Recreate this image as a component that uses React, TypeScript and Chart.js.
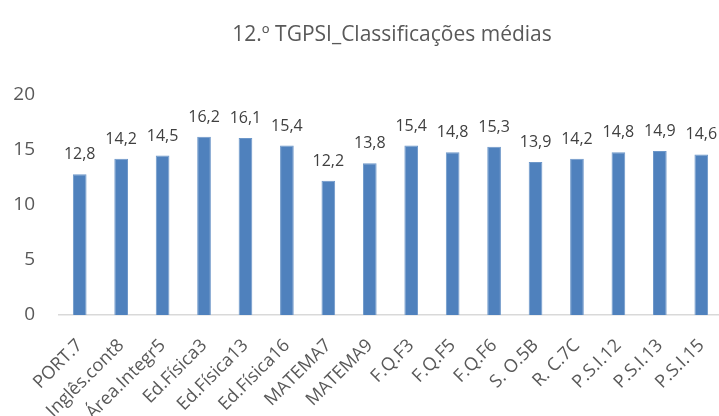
import React, { useEffect, useRef } from "react";
import { Chart, registerables } from "chart.js";

Chart.register(...registerables);

const title = "12.º TGPSI_Classificações médias";
const categories = [
  "PORT.7", "Inglês.cont8", "Área.Integr5", "Ed.Física3", "Ed.Física13", "Ed.Física16",
  "MATEMA7", "MATEMA9", "F.Q.F3", "F.Q.F5", "F.Q.F6", "S. O.5B", "R. C.7C",
  "P.S.I.12", "P.S.I.13", "P.S.I.15",
];
const values = [12.8, 14.2, 14.5, 16.2, 16.1, 15.4, 12.2, 13.8, 15.4, 14.8, 15.3, 13.9, 14.2, 14.8, 14.9, 14.6];
const yTicks = [0, 5, 10, 15, 20];

const CW = 784;
const CH = 460;

const dataLabels = {
  id: "dataLabels",
  afterDatasetsDraw(chart: any) {
    const ctx = chart.ctx;
    const meta = chart.getDatasetMeta(0);
    ctx.save();
    ctx.font = "16px 'Open Sans'";
    ctx.fillStyle = "#404040";
    ctx.textAlign = "center";
    ctx.textBaseline = "alphabetic";
    meta.data.forEach((bar: any, i: number) => {
      const v = chart.data.datasets[0].data[i] as number;
      ctx.fillText(v.toFixed(1).replace(".", ","), bar.x, bar.y - 15);
    });
    ctx.restore();
  },
};

const titlePlugin = {
  id: "ownTitle",
  afterDraw(chart: any) {
    const ctx = chart.ctx;
    ctx.save();
    ctx.font = "21px 'Open Sans'";
    ctx.fillStyle = "#595959";
    ctx.textAlign = "center";
    ctx.textBaseline = "alphabetic";
    ctx.fillText(title, CW / 2, 41);
    ctx.restore();
  },
};

export default function App() {
  const ref = useRef<HTMLCanvasElement>(null);
  useEffect(() => {
    document.body.style.margin = "0";
    const chart = new Chart(ref.current!, {
      type: "bar",
      data: {
        labels: categories,
        datasets: [
          {
            data: values,
            backgroundColor: "#4f81bd",
            borderColor: "#6d97c9",
            borderWidth: 1,
            barPercentage: 0.33,
            categoryPercentage: 1,
          },
        ],
      },
      options: {
        responsive: false,
        animation: false,
        devicePixelRatio: 1,
        layout: { padding: { left: 0, right: CW - 722, top: 95, bottom: 0 } },
        plugins: {
          legend: { display: false },
          tooltip: { enabled: false },
          title: { display: false },
        },
        scales: {
          x: {
            grid: { display: false, drawTicks: false },
            border: { display: true, color: "#d9d9d9", width: 1.5 },
            ticks: {
              color: "#595959",
              font: { family: "'Open Sans'", size: 18 },
              minRotation: 45,
              maxRotation: 45,
              autoSkip: false,
              padding: 20,
            },
            afterFit: (s: any) => {
              s.height = CH - 315;
            },
          },
          y: {
            min: 0,
            max: 20,
            afterBuildTicks: (s: any) => {
              s.ticks = yTicks.map((v) => ({ value: v }));
            },
            grid: { display: false, drawTicks: false },
            border: { display: false },
            ticks: {
              color: "#595959",
              font: { family: "'Open Sans'", size: 19 },
              padding: 24,
            },
            afterFit: (s: any) => {
              s.width = 59;
            },
          },
        },
      },
      plugins: [dataLabels, titlePlugin],
    });
    return () => chart.destroy();
  }, []);
  return (
    <div style={{ position: "relative", width: 719, height: 416, overflow: "hidden", background: "#fff" }}>
      <canvas ref={ref} width={CW} height={CH} style={{ position: "absolute", left: 0, top: 0 }} />
    </div>
  );
}
